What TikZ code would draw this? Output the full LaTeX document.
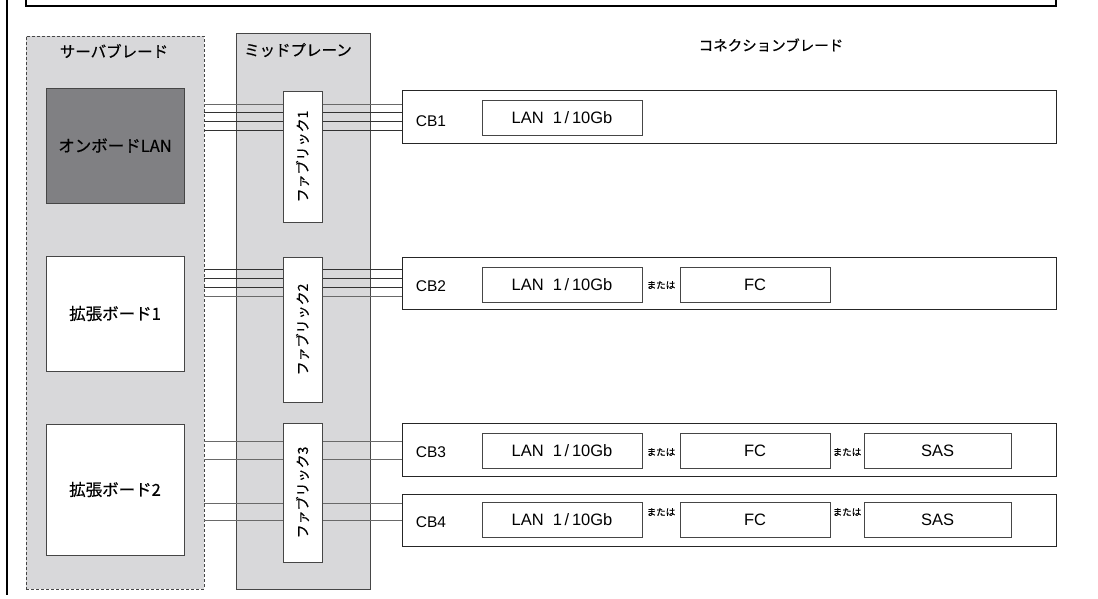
\documentclass[tikz,border=0pt]{standalone}
\usepackage{fontspec}
\setmainfont{Liberation Sans}
\newfontfamily\jp[FakeBold=0.5]{Noto Sans CJK JP}
\usetikzlibrary{calc}
\definecolor{panel}{RGB}{216,216,218}
\definecolor{dark}{RGB}{128,128,131}
\definecolor{edge}{RGB}{70,70,70}
\definecolor{wire}{RGB}{50,50,50}
\definecolor{wiregray}{RGB}{105,105,105}
\begin{document}
\begin{tikzpicture}[x=1pt,y=-1pt,
  panelbox/.style={draw=edge, fill=panel, line width=0.8pt, inner sep=0pt},
  board/.style={draw=edge, fill=white, line width=0.8pt, minimum width=138pt, inner sep=0pt, font=\jp\fontsize{16.5}{18}\selectfont},
  fabbox/.style={draw=edge, fill=white, line width=0.8pt, minimum width=39pt, inner sep=0pt},
  fabtext/.style={rotate=90, font=\jp\fontsize{14}{16}\selectfont},
  cbbox/.style={draw=black!85, fill=white, line width=0.8pt, minimum width=654pt, inner sep=0pt},
  optbox/.style={draw=edge, fill=white, line width=0.8pt, inner sep=0pt, minimum height=35pt, font=\fontsize{16.5}{18}\selectfont},
  cblabel/.style={font=\fontsize{15.5}{17}\selectfont},
  ortext/.style={font=\jp\fontsize{9.5}{11}\selectfont, inner sep=0pt},
  header/.style={font=\jp\fontsize{15.5}{17}\selectfont},
  wireline/.style={draw=wire, line width=1pt},
  wirelight/.style={draw=wiregray, line width=1pt}
]
\useasboundingbox (0,0) rectangle (1098,598);
% outer frame fragments
\draw[line width=1.4pt] (7,-3) -- (7,595);
\draw[line width=2pt] (26,-5) -- (26,6) -- (1056,6) -- (1056,-5);

% server blade and midplane
\node[panelbox, dash pattern=on 3pt off 2pt, minimum width=178pt, minimum height=553pt] (srv) at (115,312.5) {};
\node[header] (srvh) at (114,51) {サーバブレード};
\node[panelbox, minimum width=134pt, minimum height=556pt] (mid) at (303,311) {};
\node[header] (midh) at (298,50) {ミッドプレーン};
\node[header, font=\jp\fontsize{14.5}{16}\selectfont] (cbh) at (771,45) {コネクションブレード};

% boards
\node[board, fill=dark, minimum height=115pt] (onb) at (115,145.5) {オンボードLAN};
\node[board, minimum height=115pt] (exp1) at (115,313.5) {拡張ボード1};
\node[board, minimum height=131pt] (exp2) at (115,489.5) {拡張ボード2};

% connection blades
\node[cbbox, minimum height=53pt] (cb1) at (729,116.5) {};
\node[cbbox, minimum height=52pt] (cb2) at (729,283) {};
\node[cbbox, minimum height=53pt] (cb3) at (729,449.5) {};
\node[cbbox, minimum height=52pt] (cb4) at (729,520) {};

% wires
\foreach \o/\s in {12.5/wirelight,4.5/wireline,-4.5/wireline,-13.5/wireline}{
  \coordinate (e) at ([yshift=\o pt]cb1.west);
  \draw[\s] (srv.east |- e) -- (e);}
\foreach \o/\s in {14/wireline,5/wireline,-4/wireline,-13/wirelight}{
  \coordinate (e) at ([yshift=\o pt]cb2.west);
  \draw[\s] (srv.east |- e) -- (e);}
\foreach \o in {8.5,-9.5}{
  \coordinate (e) at ([yshift=\o pt]cb3.west);
  \draw[wirelight] (srv.east |- e) -- (e);}
\foreach \o in {17,0}{
  \coordinate (e) at ([yshift=\o pt]cb4.west);
  \draw[wirelight] (srv.east |- e) -- (e);}

% fabrics
\node[fabbox, minimum height=131pt] (fab1) at (302.5,156.5) {};
\node[fabtext] (fab1t) at (fab1) {ファブリック1};
\node[fabbox, minimum height=145pt] (fab2) at (302.5,329.5) {};
\node[fabtext] (fab2t) at (fab2) {ファブリック2};
\node[fabbox, minimum height=139pt] (fab3) at (302.5,492.5) {};
\node[fabtext] (fab3t) at (fab3) {ファブリック3};

% CB contents
\node[cblabel] (cb1l) at (431,121) {CB1};
\node[optbox, minimum width=160pt] (lan1) at (562,117.5) {LAN\hspace{0.55em}1\,/\,10Gb};

\node[cblabel] (cb2l) at (431,286) {CB2};
\node[optbox, minimum width=160pt] (lan2) at (562,284.5) {LAN\hspace{0.55em}1\,/\,10Gb};
\node[ortext] (or21) at (661,285) {または};
\node[optbox, minimum width=150pt] (fc2) at (755,284.5) {FC};

\node[cblabel] (cb3l) at (431,452) {CB3};
\node[optbox, minimum width=160pt] (lan3) at (562,451) {LAN\hspace{0.55em}1\,/\,10Gb};
\node[ortext] (or31) at (661,452) {または};
\node[optbox, minimum width=150pt] (fc3) at (755,451) {FC};
\node[ortext] (or32) at (847,452) {または};
\node[optbox, minimum width=147pt] (sas3) at (937.5,451) {SAS};

\node[cblabel] (cb4l) at (431,522) {CB4};
\node[optbox, minimum width=160pt] (lan4) at (562,519.5) {LAN\hspace{0.55em}1\,/\,10Gb};
\node[ortext] (or41) at (661,512) {または};
\node[optbox, minimum width=150pt] (fc4) at (755,519.5) {FC};
\node[ortext] (or42) at (847,512) {または};
\node[optbox, minimum width=147pt] (sas4) at (937.5,519.5) {SAS};
\end{tikzpicture}
\end{document}
